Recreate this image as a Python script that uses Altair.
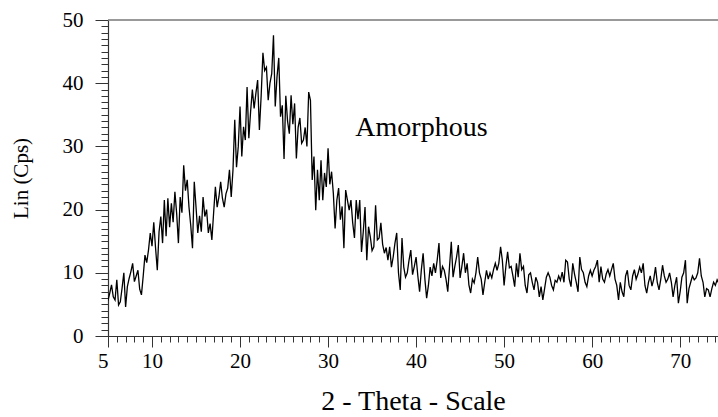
import altair as alt
import pandas as pd

# Intensity (Cps), one value every 0.2 degree starting at 5.0
counts = [
    5.6, 6.8, 8.1, 6.2, 5.7, 8.9, 4.9, 5.4, 7.6, 10.0,
    4.6, 7.8, 9.1, 10.2, 11.5, 8.6, 9.5, 10.4, 7.4, 6.5,
    9.5, 12.8, 11.6, 13.6, 16.3, 14.2, 18.0, 14.0, 10.4, 16.5,
    18.9, 14.7, 21.5, 15.8, 21.8, 17.2, 21.0, 18.0, 22.8, 19.4,
    14.7, 22.0, 19.5, 27.0, 23.0, 24.7, 20.4, 17.5, 13.9, 24.4,
    20.4, 16.3, 19.0, 16.5, 22.0, 18.9, 20.0, 16.3, 17.8, 15.2,
    19.5, 23.6, 20.4, 22.0, 24.4, 21.8, 20.4, 22.5, 23.4, 26.3,
    22.0, 26.3, 34.2, 26.7, 30.0, 36.3, 28.4, 33.1, 31.0, 39.4,
    31.3, 35.5, 39.0, 36.0, 38.4, 40.5, 32.6, 38.0, 44.8, 42.0,
    42.5, 37.3, 40.0, 41.5, 47.6, 36.3, 41.0, 44.0, 34.7, 36.5,
    28.0, 38.0, 34.0, 32.0, 38.1, 33.5, 36.8, 28.1, 33.0, 34.5,
    30.5, 31.0, 33.0, 30.0, 38.6, 37.3, 24.7, 28.4, 19.9, 26.3,
    21.5, 27.8, 21.5, 25.8, 23.6, 29.7, 24.0, 26.0, 22.6, 17.0,
    21.5, 23.4, 18.4, 20.5, 13.9, 23.1, 21.5, 19.9, 21.5, 17.9,
    15.5, 21.5, 18.5, 21.5, 13.3, 16.5, 20.4, 12.0, 17.3, 15.7,
    13.5, 14.1, 20.7, 15.2, 15.5, 17.9, 14.5, 13.1, 14.0, 12.0,
    14.1, 10.9, 12.5, 14.7, 16.3, 10.0, 7.3, 15.5, 10.9, 9.3,
    10.0, 12.0, 13.6, 9.7, 11.0, 12.5, 9.5, 7.0, 10.5, 13.1,
    9.0, 6.0, 8.0, 10.9, 9.5, 11.5, 10.0, 12.0, 14.7, 9.2,
    11.0, 10.4, 9.0, 7.0, 11.0, 14.9, 9.3, 11.0, 12.5, 14.4,
    9.2, 11.0, 13.1, 10.0, 11.5, 8.1, 6.8, 9.0, 8.4, 10.0,
    12.5, 10.0, 9.0, 6.5, 8.5, 10.4, 9.0, 10.0, 9.2, 10.5,
    11.5, 10.4, 11.5, 14.1, 12.0, 8.0, 11.0, 13.3, 10.8, 11.0,
    9.5, 7.8, 11.5, 9.3, 13.1, 10.5, 11.0, 8.0, 6.8, 9.7,
    10.0, 8.5, 7.3, 9.3, 8.5, 6.2, 7.8, 5.7, 7.5, 9.3,
    10.0, 9.3, 8.0, 7.3, 8.8, 8.5, 9.5, 8.8, 10.1, 8.5,
    12.0, 11.7, 9.0, 7.8, 11.5, 9.8, 8.5, 7.0, 12.5, 10.5,
    10.0, 8.5, 7.8, 9.5, 10.4, 9.5, 10.4, 11.0, 12.0, 8.5,
    11.0, 9.0, 8.5, 9.8, 10.5, 9.5, 10.5, 11.5, 9.0, 8.0,
    5.7, 8.5, 7.0, 6.2, 9.5, 10.4, 8.0, 7.3, 9.5, 10.5,
    9.0, 9.8, 10.9, 10.0, 11.5, 8.0, 6.8, 8.5, 9.5, 7.9,
    9.0, 10.9, 8.5, 7.3, 9.0, 11.2, 9.5, 8.5, 9.0, 10.0,
    8.5, 6.2, 8.0, 9.3, 5.2, 7.0, 9.3, 10.0, 12.0, 5.2,
    7.5, 8.5, 9.5, 8.9, 9.2, 10.0, 12.3, 9.5, 8.5, 6.2,
    7.5, 7.3, 6.2, 7.5, 8.5, 8.0, 8.9, 8.3,
]
scan_start = 5.0
scan_step = 0.2
two_theta = [round(scan_start + scan_step * i, 1) for i in range(len(counts))]

x_domain = [5, 74.3]
y_domain = [0, 50]
x_minor_ticks = list(range(5, 75))
x_major_ticks = [5, 10, 20, 30, 40, 50, 60, 70]
y_minor_ticks = list(range(0, 51))
y_major_ticks = [0, 10, 20, 30, 40, 50]

annotation = "Amorphous"
annotation_x = 33.1
annotation_y = 31.7

FONT = "Liberation Serif"
AXIS_COLOR = "#333333"

df = pd.DataFrame({"theta": two_theta, "cps": counts})

x_scale = alt.Scale(domain=x_domain, nice=False, zero=False)
y_scale = alt.Scale(domain=y_domain, nice=False)

# Line carries the minor-tick axes
line = alt.Chart(df).mark_line(color="black", strokeWidth=1.3, clip=True).encode(
    x=alt.X(
        "theta:Q",
        scale=x_scale,
        axis=alt.Axis(
            orient="bottom",
            title=None,
            values=x_minor_ticks,
            labels=False,
            tickSize=6,
            tickColor=AXIS_COLOR,
            tickWidth=1,
            domain=False,
            grid=False,
        ),
    ),
    y=alt.Y(
        "cps:Q",
        scale=y_scale,
        axis=alt.Axis(
            orient="left",
            title=None,
            values=y_minor_ticks,
            labels=False,
            tickSize=7,
            tickColor=AXIS_COLOR,
            tickWidth=1,
            domain=False,
            grid=False,
        ),
    ),
)

# Invisible layer carries the major-tick axes with labels and titles
major = alt.Chart(df).mark_point(opacity=0).encode(
    x=alt.X(
        "theta:Q",
        scale=x_scale,
        axis=alt.Axis(
            orient="bottom",
            title="2 - Theta - Scale",
            values=x_major_ticks,
            tickSize=11,
            tickColor=AXIS_COLOR,
            domainColor=AXIS_COLOR,
            tickWidth=1,
            domainWidth=1.2,
            labelFont=FONT,
            labelFontSize=21,
            labelColor="black",
            labelPadding=3,
            labelFlush=False,
            labelOverlap=False,
            labelAlign={
                "condition": {"test": "datum.value == 5", "value": "right"},
                "value": "center",
            },
            titleFont=FONT,
            titleFontSize=28,
            titleFontWeight="normal",
            titleColor="black",
            titlePadding=16,
            grid=False,
        ),
    ),
    y=alt.Y(
        "cps:Q",
        scale=y_scale,
        axis=alt.Axis(
            orient="left",
            title="Lin (Cps)",
            values=y_major_ticks,
            tickSize=13,
            tickColor=AXIS_COLOR,
            domainColor=AXIS_COLOR,
            tickWidth=1,
            domainWidth=1.2,
            labelFont=FONT,
            labelFontSize=21,
            labelColor="black",
            labelPadding=12,
            labelOverlap=False,
            titleFont=FONT,
            titleFontSize=21,
            titleFontWeight="normal",
            titleColor="black",
            titlePadding=31,
            grid=False,
        ),
    ),
)

top_border = alt.Chart(pd.DataFrame({"y": [y_domain[1]]})).mark_rule(
    color="#777777", strokeWidth=1.5
).encode(y=alt.Y("y:Q", scale=y_scale, axis=None))

label = alt.Chart(
    pd.DataFrame({"x": [annotation_x], "y": [annotation_y], "t": [annotation]})
).mark_text(
    align="left", baseline="alphabetic", font=FONT, fontSize=28, color="black"
).encode(
    x=alt.X("x:Q", scale=x_scale, axis=None),
    y=alt.Y("y:Q", scale=y_scale, axis=None),
    text="t:N",
)

chart = (
    alt.layer(line, major, top_border, label)
    .resolve_axis(x="independent", y="independent")
    .properties(
        width=610,
        height=316,
        autosize=alt.AutoSizeParams(type="none"),
        padding={"left": 108, "top": 20, "right": 0, "bottom": 81},
        background="white",
    )
    .configure_view(stroke=None)
)

chart.save("out.html", embed_options={"renderer": "svg", "actions": False})
